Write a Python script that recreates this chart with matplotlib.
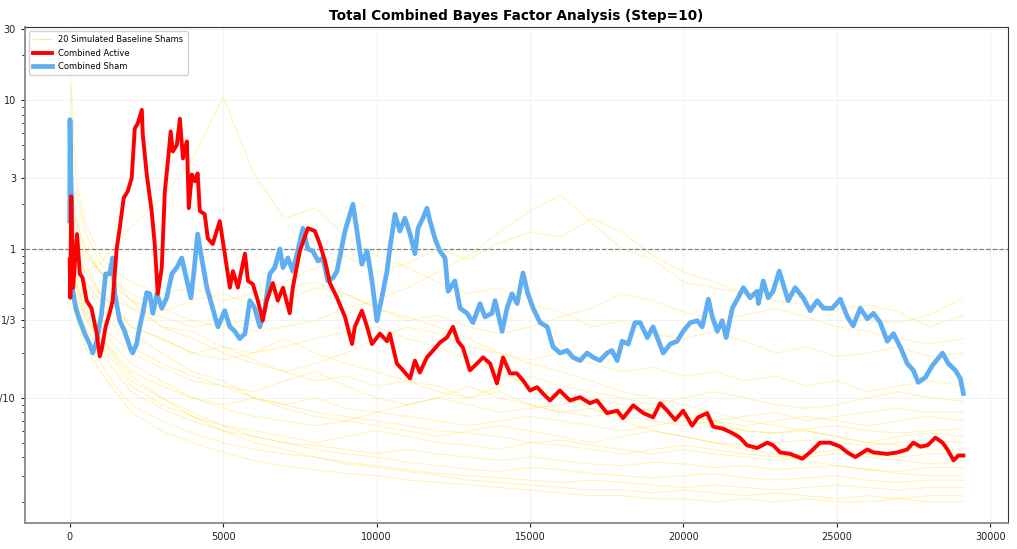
import matplotlib
matplotlib.use("Agg")
import matplotlib.pyplot as plt
from matplotlib.ticker import FixedLocator, FixedFormatter, LogLocator, NullFormatter

# ---------------- data ----------------
active_steps = [0, 20, 50, 110, 240, 330, 420, 550, 710, 880, 980, 1040, 1170, 1300, 1400, 1530, 1630, 1760, 1890, 2020,
                2120, 2220, 2350, 2380, 2510, 2670, 2770, 2870, 3000, 3100, 3200, 3290, 3360, 3490, 3590, 3690, 3750, 3820,
                3880, 3980, 4080, 4170, 4240, 4400, 4500, 4660, 4890, 4990, 5220, 5320, 5480, 5710, 5810, 5970, 6130, 6290,
                6420, 6620, 6780, 6950, 7170, 7270, 7500, 7760, 7990, 8150, 8320, 8480, 8710, 8970, 9200, 9290, 9520, 9690,
                9850, 10110, 10340, 10430, 10660, 10860, 11090, 11250, 11410, 11640, 11840, 12060, 12290, 12490, 12650,
                12810, 13040, 13270, 13470, 13700, 13920, 14120, 14350, 14570, 14770, 15000, 15230, 15420, 15650, 15970,
                16300, 16630, 16950, 17180, 17510, 17840, 18030, 18360, 18690, 19010, 19240, 19470, 19730, 19990, 20280,
                20480, 20770, 20970, 21290, 21590, 21840, 22070, 22400, 22730, 22920, 23150, 23480, 23870, 24120, 24450,
                24780, 25110, 25340, 25600, 25990, 26190, 26640, 26970, 27290, 27490, 27720, 27950, 28210, 28440, 28600,
                28800, 28960, 29120]
active_bf = [0.85, 0.47, 2.26, 0.55, 1.26, 0.68, 0.64, 0.45, 0.40, 0.27, 0.19, 0.21, 0.30, 0.37, 0.45, 1.0, 1.38, 2.2, 2.44,
             3.0, 6.45, 7.0, 8.6, 5.9, 3.17, 1.80, 1.08, 0.50, 0.75, 2.44, 3.88, 6.16, 4.52, 5.0, 7.5, 4.06, 4.74, 5.28, 1.88,
             3.17, 2.85, 3.22, 1.80, 1.71, 1.18, 1.08, 1.54, 1.13, 0.55, 0.71, 0.55, 0.93, 0.61, 0.58, 0.45, 0.33, 0.45, 0.59,
             0.45, 0.55, 0.37, 0.55, 0.97, 1.38, 1.32, 1.08, 0.83, 0.59, 0.47, 0.35, 0.23, 0.30, 0.385, 0.30, 0.23, 0.27,
             0.24, 0.27, 0.17, 0.153, 0.135, 0.178, 0.148, 0.187, 0.208, 0.235, 0.254, 0.30, 0.24, 0.218, 0.153, 0.17,
             0.187, 0.17, 0.125, 0.187, 0.146, 0.146, 0.131, 0.112, 0.118, 0.107, 0.096, 0.112, 0.096, 0.101, 0.092,
             0.096, 0.079, 0.082, 0.073, 0.089, 0.079, 0.074, 0.092, 0.082, 0.071, 0.082, 0.065, 0.074, 0.079, 0.064,
             0.062, 0.058, 0.054, 0.048, 0.046, 0.050, 0.048, 0.043, 0.042, 0.039, 0.043, 0.050, 0.050, 0.047, 0.043,
             0.040, 0.045, 0.043, 0.042, 0.043, 0.045, 0.050, 0.047, 0.048, 0.054, 0.050, 0.045, 0.038, 0.041, 0.041]

sham_steps = [0, 10, 30, 60, 100, 200, 330, 490, 650, 750, 880, 1040, 1170, 1300, 1400, 1470, 1630, 1790, 1960, 2050, 2180,
              2280, 2380, 2510, 2610, 2710, 2840, 3000, 3160, 3330, 3490, 3650, 3750, 3950, 4040, 4170, 4300, 4470, 4660,
              4830, 5050, 5220, 5380, 5540, 5710, 5870, 6030, 6200, 6360, 6520, 6680, 6850, 6950, 7110, 7270, 7430, 7600,
              7760, 7920, 8090, 8250, 8410, 8580, 8710, 8970, 9230, 9360, 9520, 9690, 9850, 10010, 10170, 10340, 10430,
              10600, 10760, 10920, 11090, 11250, 11350, 11510, 11640, 11740, 11900, 12060, 12230, 12330, 12550, 12720,
              12950, 13140, 13370, 13530, 13760, 13860, 14090, 14250, 14410, 14580, 14770, 14930, 15100, 15330, 15560,
              15750, 15980, 16210, 16400, 16630, 16860, 17060, 17280, 17510, 17670, 17840, 18000, 18200, 18420, 18590,
              18820, 19010, 19340, 19570, 19790, 19990, 20220, 20450, 20610, 20810, 20940, 21100, 21260, 21390, 21590,
              21780, 21950, 22170, 22400, 22440, 22600, 22760, 22920, 23120, 23250, 23410, 23640, 23900, 24130, 24360,
              24560, 24850, 25110, 25340, 25530, 25760, 25990, 26190, 26410, 26640, 26840, 27070, 27290, 27490, 27650,
              27880, 28110, 28440, 28630, 28860, 29020, 29120]
sham_bf = [1.54, 7.4, 3.48, 2.2, 0.52, 0.40, 0.33, 0.27, 0.23, 0.20, 0.24, 0.37, 0.68, 0.68, 0.87, 0.50, 0.33, 0.28, 0.22,
           0.20, 0.23, 0.30, 0.37, 0.51, 0.50, 0.37, 0.50, 0.40, 0.47, 0.68, 0.75, 0.87, 0.71, 0.47, 0.68, 1.26, 0.87, 0.55,
           0.40, 0.30, 0.385, 0.30, 0.28, 0.25, 0.27, 0.45, 0.40, 0.30, 0.40, 0.68, 0.75, 1.0, 0.75, 0.87, 0.71, 0.97, 1.38,
           1.0, 0.97, 0.83, 0.87, 0.61, 0.64, 0.71, 1.32, 2.0, 1.32, 0.79, 0.97, 0.61, 0.33, 0.47, 0.71, 1.0, 1.71, 1.32,
           1.61, 1.26, 0.93, 1.38, 1.61, 1.88, 1.54, 1.18, 0.97, 0.87, 0.52, 0.61, 0.40, 0.37, 0.32, 0.43, 0.35, 0.37, 0.45,
           0.28, 0.40, 0.50, 0.43, 0.69, 0.50, 0.40, 0.32, 0.30, 0.22, 0.20, 0.208, 0.187, 0.178, 0.20, 0.187, 0.178, 0.20,
           0.208, 0.178, 0.24, 0.23, 0.32, 0.32, 0.254, 0.30, 0.20, 0.23, 0.24, 0.28, 0.32, 0.33, 0.30, 0.46, 0.35, 0.28,
           0.33, 0.254, 0.40, 0.47, 0.55, 0.47, 0.52, 0.43, 0.61, 0.47, 0.52, 0.71, 0.58, 0.45, 0.55, 0.47, 0.385, 0.45,
           0.40, 0.40, 0.46, 0.35, 0.305, 0.40, 0.34, 0.37, 0.32, 0.24, 0.27, 0.218, 0.17, 0.153, 0.127, 0.137, 0.165,
           0.20, 0.17, 0.153, 0.135, 0.107]

sim_steps = [0, 50, 200, 500, 1000, 1500, 2000, 3000, 4000, 5000, 6000, 7000, 8000, 9000, 10000, 11000, 12000, 13000,
             14000, 15000, 16000, 17000, 18000, 19000, 20000, 21000, 22000, 23000, 24000, 25000, 26000, 27000, 28000, 29120]
sim_01 = [1, 1.5, 0.9, 0.7, 0.8, 1.1, 1.4, 2.2, 4.0, 10.5, 3.2, 1.6, 1.9, 1.2, 0.9, 0.75, 0.6, 0.5, 0.55, 0.42, 0.38, 0.3, 0.33, 0.27, 0.25, 0.28, 0.24, 0.2, 0.22, 0.19, 0.2, 0.22, 0.19, 0.2]
sim_02 = [1, 1.2, 0.8, 0.6, 0.5, 0.45, 0.4, 0.35, 0.3, 0.32, 0.28, 0.3, 0.33, 0.4, 0.45, 0.55, 0.7, 0.9, 1.3, 1.8, 2.3, 1.5, 1.0, 0.85, 0.6, 0.55, 0.5, 0.45, 0.42, 0.38, 0.33, 0.32, 0.36, 0.47]
sim_03 = [1, 13, 3, 1.5, 0.9, 0.7, 0.6, 0.5, 0.55, 0.45, 0.5, 0.6, 0.75, 0.9, 0.7, 0.8, 1.0, 0.85, 1.1, 1.3, 1.2, 1.6, 1.3, 0.9, 0.7, 0.6, 0.5, 0.55, 0.45, 0.4, 0.42, 0.38, 0.3, 0.36]
sim_04 = [1, 2.5, 1.6, 1.0, 0.7, 0.6, 0.5, 0.4, 0.33, 0.3, 0.35, 0.45, 0.55, 0.5, 0.4, 0.33, 0.36, 0.3, 0.27, 0.3, 0.35, 0.4, 0.5, 0.45, 0.38, 0.33, 0.36, 0.4, 0.35, 0.3, 0.28, 0.25, 0.23, 0.25]
sim_05 = [1, 0.8, 1.2, 0.8, 0.5, 0.4, 0.3, 0.25, 0.2, 0.22, 0.18, 0.15, 0.17, 0.2, 0.25, 0.3, 0.27, 0.22, 0.2, 0.18, 0.2, 0.17, 0.15, 0.16, 0.14, 0.15, 0.13, 0.14, 0.12, 0.13, 0.11, 0.12, 0.13, 0.12]
sim_06 = [1, 1.8, 2.5, 1.3, 0.8, 0.6, 0.45, 0.3, 0.25, 0.2, 0.17, 0.15, 0.13, 0.14, 0.12, 0.13, 0.11, 0.1, 0.12, 0.14, 0.12, 0.11, 0.1, 0.09, 0.1, 0.11, 0.1, 0.09, 0.085, 0.09, 0.1, 0.11, 0.1, 0.095]
sim_07 = [1, 0.7, 0.6, 0.4, 0.3, 0.25, 0.2, 0.16, 0.13, 0.12, 0.11, 0.13, 0.15, 0.12, 0.1, 0.09, 0.1, 0.09, 0.08, 0.085, 0.09, 0.1, 0.09, 0.08, 0.075, 0.07, 0.075, 0.08, 0.07, 0.075, 0.08, 0.085, 0.08, 0.08]
sim_08 = [1, 1.4, 0.9, 0.6, 0.45, 0.35, 0.27, 0.2, 0.15, 0.13, 0.1, 0.09, 0.1, 0.085, 0.08, 0.09, 0.1, 0.12, 0.1, 0.09, 0.08, 0.075, 0.08, 0.085, 0.08, 0.07, 0.065, 0.07, 0.075, 0.07, 0.065, 0.07, 0.075, 0.07]
sim_09 = [1, 0.6, 0.5, 0.35, 0.25, 0.2, 0.15, 0.12, 0.1, 0.09, 0.1, 0.085, 0.075, 0.07, 0.08, 0.075, 0.07, 0.065, 0.07, 0.075, 0.07, 0.065, 0.06, 0.065, 0.07, 0.065, 0.06, 0.058, 0.062, 0.065, 0.06, 0.058, 0.06, 0.062]
sim_10 = [1, 2.0, 1.3, 0.9, 0.7, 0.5, 0.4, 0.3, 0.28, 0.22, 0.2, 0.25, 0.2, 0.17, 0.15, 0.13, 0.12, 0.1, 0.11, 0.09, 0.08, 0.085, 0.075, 0.07, 0.065, 0.07, 0.06, 0.058, 0.06, 0.055, 0.05, 0.055, 0.058, 0.055]
sim_11 = [1, 0.9, 0.7, 0.45, 0.3, 0.22, 0.17, 0.13, 0.1, 0.085, 0.075, 0.07, 0.065, 0.07, 0.065, 0.06, 0.055, 0.06, 0.065, 0.06, 0.055, 0.05, 0.055, 0.06, 0.055, 0.05, 0.048, 0.05, 0.052, 0.05, 0.048, 0.05, 0.052, 0.05]
sim_12 = [1, 1.2, 1.6, 1.0, 0.7, 0.55, 0.45, 0.38, 0.45, 0.5, 0.42, 0.55, 0.6, 0.5, 0.4, 0.35, 0.3, 0.25, 0.2, 0.17, 0.15, 0.13, 0.11, 0.1, 0.09, 0.08, 0.07, 0.065, 0.06, 0.055, 0.05, 0.048, 0.045, 0.045]
sim_13 = [1, 0.5, 0.4, 0.3, 0.22, 0.17, 0.12, 0.09, 0.075, 0.065, 0.06, 0.055, 0.05, 0.055, 0.06, 0.055, 0.05, 0.048, 0.045, 0.05, 0.048, 0.045, 0.042, 0.045, 0.048, 0.045, 0.042, 0.04, 0.042, 0.045, 0.042, 0.04, 0.042, 0.042]
sim_14 = [1, 1.0, 0.8, 0.55, 0.4, 0.3, 0.22, 0.17, 0.14, 0.12, 0.1, 0.09, 0.08, 0.075, 0.07, 0.065, 0.06, 0.058, 0.055, 0.05, 0.052, 0.048, 0.045, 0.042, 0.045, 0.042, 0.04, 0.038, 0.04, 0.042, 0.04, 0.038, 0.036, 0.038]
sim_15 = [1, 0.7, 0.45, 0.3, 0.2, 0.15, 0.11, 0.085, 0.07, 0.06, 0.055, 0.05, 0.048, 0.045, 0.042, 0.045, 0.042, 0.04, 0.038, 0.04, 0.038, 0.036, 0.035, 0.037, 0.036, 0.034, 0.035, 0.033, 0.034, 0.035, 0.033, 0.032, 0.034, 0.034]
sim_16 = [1, 1.5, 1.1, 0.7, 0.5, 0.4, 0.3, 0.25, 0.2, 0.18, 0.2, 0.22, 0.25, 0.28, 0.3, 0.25, 0.22, 0.18, 0.15, 0.12, 0.1, 0.085, 0.07, 0.06, 0.055, 0.05, 0.045, 0.042, 0.038, 0.035, 0.033, 0.031, 0.03, 0.03]
sim_17 = [1, 0.8, 0.55, 0.35, 0.25, 0.18, 0.13, 0.1, 0.08, 0.065, 0.055, 0.05, 0.045, 0.042, 0.04, 0.037, 0.035, 0.033, 0.032, 0.034, 0.033, 0.031, 0.03, 0.029, 0.03, 0.031, 0.029, 0.028, 0.029, 0.03, 0.028, 0.027, 0.028, 0.028]
sim_18 = [1, 0.6, 0.4, 0.25, 0.17, 0.12, 0.09, 0.07, 0.058, 0.05, 0.045, 0.042, 0.04, 0.037, 0.035, 0.033, 0.031, 0.03, 0.029, 0.028, 0.027, 0.028, 0.027, 0.026, 0.025, 0.026, 0.025, 0.024, 0.025, 0.026, 0.025, 0.024, 0.025, 0.025]
sim_19 = [1, 1.1, 0.6, 0.38, 0.26, 0.19, 0.14, 0.1, 0.075, 0.06, 0.05, 0.045, 0.04, 0.036, 0.034, 0.032, 0.03, 0.028, 0.027, 0.026, 0.025, 0.024, 0.024, 0.023, 0.024, 0.023, 0.022, 0.023, 0.022, 0.021, 0.022, 0.021, 0.022, 0.022]
sim_20 = [1, 0.5, 0.35, 0.22, 0.15, 0.11, 0.08, 0.06, 0.05, 0.043, 0.038, 0.035, 0.033, 0.031, 0.03, 0.028, 0.027, 0.026, 0.025, 0.024, 0.023, 0.022, 0.022, 0.021, 0.021, 0.02, 0.021, 0.02, 0.021, 0.02, 0.02, 0.021, 0.02, 0.02]
sims = [sim_01, sim_02, sim_03, sim_04, sim_05, sim_06, sim_07, sim_08, sim_09, sim_10,
        sim_11, sim_12, sim_13, sim_14, sim_15, sim_16, sim_17, sim_18, sim_19, sim_20]

y_tick_values = [1/10, 1/3, 1, 3, 10, 30]
y_tick_labels = ["1/10", "1/3", "1", "3", "10", "30"]
x_tick_values = [0, 5000, 10000, 15000, 20000, 25000, 30000]

title = "Total Combined Bayes Factor Analysis (Step=10)"

# ---------------- figure ----------------
fig = plt.figure(figsize=(10.17, 5.49), dpi=100)
ax = fig.add_axes([0.0246, 0.0479, 0.9666, 0.9029])

for i, s in enumerate(sims):
    ax.plot(sim_steps, s, color="#FFD700", lw=0.7, alpha=0.3,
            label="20 Simulated Baseline Shams" if i == 0 else None, zorder=1)

ax.plot(sham_steps, sham_bf, color="#5FAEF2", lw=3.4, label="Combined Sham", zorder=3)
ax.plot(active_steps, active_bf, color="#FF0000", lw=2.8, label="Combined Active", zorder=4)

ax.axhline(1, color="gray", ls="--", lw=0.9, zorder=2)

ax.set_yscale("log")
ax.set_ylim(1/69, 31)
ax.margins(x=0.05)
ax.yaxis.set_major_locator(FixedLocator(y_tick_values))
ax.yaxis.set_major_formatter(FixedFormatter(y_tick_labels))
ax.yaxis.set_minor_locator(LogLocator(base=10, subs=range(2, 10)))
ax.yaxis.set_minor_formatter(NullFormatter())
ax.set_xticks(x_tick_values)
ax.tick_params(axis="both", labelsize=7, colors="#222222", length=3)
ax.tick_params(axis="y", which="minor", length=2)
ax.grid(True, which="major", color="#dddddd", lw=0.5, alpha=0.5)

for side in ["left", "bottom"]:
    ax.spines[side].set_color("#888888")
    ax.spines[side].set_linewidth(1.3)
for side in ["top", "right"]:
    ax.spines[side].set_color("#333333")
    ax.spines[side].set_linewidth(0.8)

ax.set_title(title, fontsize=9.8, fontweight="bold", pad=5)

handles, labels = ax.get_legend_handles_labels()
order = [labels.index("20 Simulated Baseline Shams"), labels.index("Combined Active"), labels.index("Combined Sham")]
leg = ax.legend([handles[k] for k in order], [labels[k] for k in order],
                loc="upper left", fontsize=6, framealpha=0.9, borderpad=0.5, handlelength=2.2)
for lh in leg.get_lines():
    if lh.get_label() == "20 Simulated Baseline Shams":
        lh.set_alpha(0.5)

fig.savefig("out.png", dpi=100)
